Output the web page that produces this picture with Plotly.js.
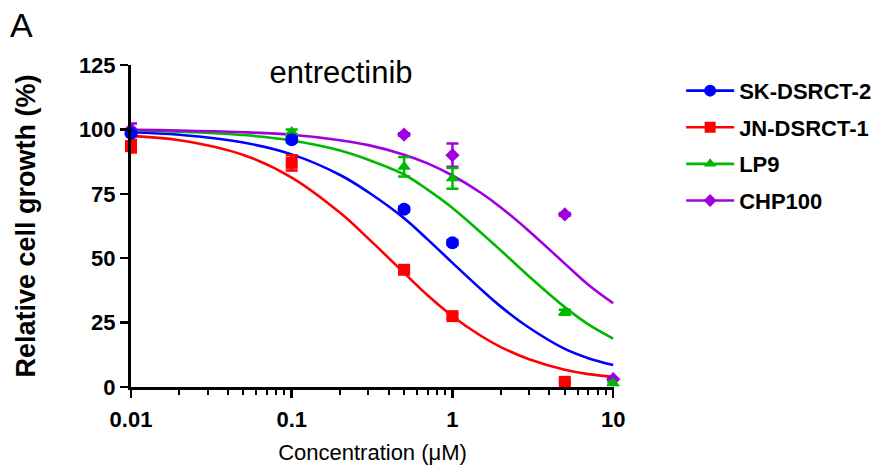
<!DOCTYPE html>
<html>
<head>
<meta charset="utf-8">
<script src="https://cdn.plot.ly/plotly-3.0.1.min.js"></script>
<style>html,body{margin:0;padding:0;background:#fff;}#chart{width:894px;height:465px;}</style>
</head>
<body>
<div id="chart"></div>
<script>
// Series names and colours
var seriesNames = ["SK-DSRCT-2", "JN-DSRCT-1", "LP9", "CHP100"];
var seriesColors = ["#0000ff", "#ff0000", "#00b800", "#a000e0"];
var seriesSymbols = ["circle", "square", "triangle-up", "diamond"];

// Measured points (concentration in µM, relative growth %)
var skX = [0.01, 0.1, 0.5, 1];
var skY = [98.5, 96, 69, 56];
var skErr = [1, 1, 1, 1];

var jnX = [0.01, 0.1, 0.5, 1, 5];
var jnY = [93.5, 87, 45.5, 27.5, 2];
var jnErr = [2.5, 3, 1, 1, 0.5];

var lpX = [0.01, 0.1, 0.5, 1, 5, 10];
var lpY = [99, 99, 85.5, 81, 29, 1.5];
var lpErr = [1, 1, 3.8, 4, 1, 0.5];

var chX = [0.01, 0.5, 1, 5, 10];
var chY = [100, 98, 90, 67, 3];
var chErr = [2.3, 0.5, 4.5, 0.5, 0.5];

// Fitted curves
var curveX = [0.01, 0.02, 0.05, 0.1, 0.2, 0.3, 0.5, 0.7, 1, 1.5, 2, 3, 5, 7, 10];
var skCurve = [98.9, 97.9, 94.9, 90.3, 82.3, 75.6, 65.5, 57.3, 48.2, 38.0, 31.2, 23.0, 14.8, 11.2, 8.5];
var jnCurve = [97.5, 95.8, 90.1, 81.3, 67.6, 57.6, 44.3, 35.6, 27.5, 19.9, 15.5, 10.8, 6.7, 5.0, 4.0];
var lpCurve = [99.6, 99.1, 97.8, 95.7, 91.8, 88.2, 82.5, 76.6, 69.5, 60.0, 53.0, 42.9, 31.0, 24.3, 18.8];
var chCurve = [99.8, 99.6, 98.9, 97.9, 95.8, 93.9, 90.2, 86.8, 82.1, 75.4, 69.7, 60.5, 47.9, 39.7, 32.5];

// Axis ticks
var xTickVals = [0.01, 0.1, 1, 10];
var xTickText = ["0.01", "0.1", "1", "10"];
var xMinorVals = [0.02,0.03,0.04,0.05,0.06,0.07,0.08,0.09,0.2,0.3,0.4,0.5,0.6,0.7,0.8,0.9,2,3,4,5,6,7,8,9];
var yTickVals = [0, 25, 50, 75, 100, 125];

var FONT = "Liberation Sans, Arial, Helvetica, sans-serif";

var pts = [[skX, skY, skErr], [jnX, jnY, jnErr], [lpX, lpY, lpErr], [chX, chY, chErr]];
var curves = [skCurve, jnCurve, lpCurve, chCurve];
var markerSizes = [13, 12, 12, 11];

var traces = [];
// curves
for (var i = 0; i < 4; i++) {
  traces.push({
    x: curveX, y: curves[i], type: "scatter", mode: "lines",
    line: {color: seriesColors[i], width: 2.6, shape: "spline"},
    showlegend: false, hoverinfo: "skip", cliponaxis: false
  });
}
// points (drawing order: purple, green, red, blue on top)
var order = [3, 2, 1, 0];
order.forEach(function (i) {
  traces.push({
    x: pts[i][0], y: pts[i][1], type: "scatter", mode: "markers",
    marker: {symbol: seriesSymbols[i], size: markerSizes[i], color: seriesColors[i]},
    error_y: {type: "data", array: pts[i][2], visible: true, color: seriesColors[i], thickness: 2.5, width: 6},
    showlegend: false, cliponaxis: false
  });
});
// legend entries
for (var i = 0; i < 4; i++) {
  traces.push({
    x: [null], y: [null], type: "scatter", mode: "lines+markers",
    name: seriesNames[i], legendgroup: "g" + i,
    line: {color: seriesColors[i], width: 2.6},
    marker: {symbol: seriesSymbols[i], size: markerSizes[i] - 1, color: seriesColors[i]}
  });
}

var layout = {
  width: 894, height: 465,
  margin: {l: 131, r: 280, t: 65, b: 78},
  paper_bgcolor: "#fff", plot_bgcolor: "#fff",
  font: {family: FONT, color: "#000"},
  title: {
    text: "entrectinib", font: {family: FONT, size: 31, color: "#000"},
    xref: "paper", x: 0.435, xanchor: "center",
    yref: "container", y: 1 - 72 / 465, yanchor: "middle"
  },
  xaxis: {
    type: "log", range: [-2, 1.005], showgrid: false, zeroline: false,
    showline: true, linecolor: "#000", linewidth: 3,
    tickmode: "array", tickvals: xTickVals, ticktext: xTickText,
    ticks: "outside", ticklen: 8, tickwidth: 2.5, tickcolor: "#000", ticklabelstandoff: 3,
    minor: {tickmode: "array", tickvals: xMinorVals, ticks: "outside", ticklen: 5, tickwidth: 2, tickcolor: "#000", showgrid: false},
    tickfont: {family: FONT, size: 22, color: "#000", weight: "bold"},
    title: {text: "Concentration (\u03bcM)", font: {family: FONT, size: 22, color: "#000"}, standoff: 16}
  },
  yaxis: {
    range: [0, 125], showgrid: false, zeroline: false,
    showline: true, linecolor: "#000", linewidth: 3,
    tickmode: "array", tickvals: yTickVals,
    ticks: "outside", ticklen: 8, tickwidth: 2.5, tickcolor: "#000",
    tickfont: {family: FONT, size: 22, color: "#000", weight: "bold"},
    title: {text: "<b>Relative cell growth (%)</b>", font: {family: FONT, size: 27, color: "#000"}, standoff: 36}
  },
  legend: {
    x: 1.139, xanchor: "left", y: 0.985, yanchor: "top",
    font: {family: FONT, size: 22, color: "#000", weight: "bold"},
    traceorder: "grouped", tracegroupgap: 5, itemwidth: 48,
    bgcolor: "rgba(0,0,0,0)"
  },
  annotations: [{
    text: "A", xref: "paper", yref: "paper", x: -131 / 483, y: 1 + (65 - 25) / 322,
    xanchor: "left", yanchor: "middle", showarrow: false,
    font: {family: FONT, size: 34, color: "#000"}, xshift: 8
  }],
  showlegend: true
};

Plotly.newPlot("chart", traces, layout, {displayModeBar: false, staticPlot: true});
</script>
</body>
</html>
